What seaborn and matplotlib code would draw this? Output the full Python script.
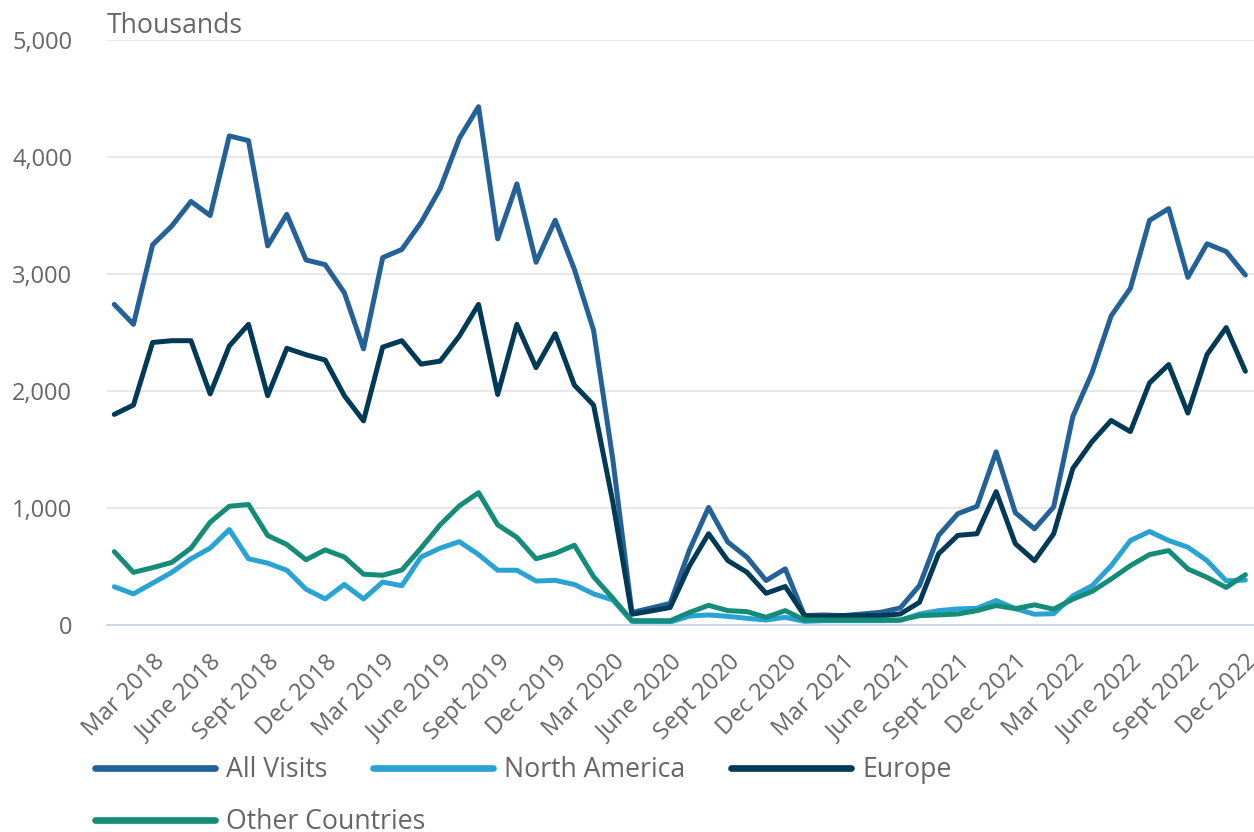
import pandas as pd
import numpy as np
import matplotlib.pyplot as plt
import seaborn as sns
from matplotlib.lines import Line2D
from matplotlib.ticker import FuncFormatter

# --- data (thousands of visits, monthly Jan 2018 - Dec 2022) ---
all_visits = [2740, 2570, 3250, 3410, 3620, 3500, 4180, 4140, 3240, 3510, 3120, 3080,
              2840, 2360, 3140, 3210, 3440, 3730, 4160, 4430, 3300, 3770, 3100, 3460,
              3040, 2520, 1420, 107, 145, 185, 640, 1005, 709, 580, 380, 480,
              80, 86, 80, 94, 109, 146, 337, 766, 951, 1014, 1480, 960,
              822, 1009, 1782, 2155, 2642, 2877, 3458, 3559, 2971, 3258, 3192, 2991]
north_america = [327, 266, 358, 450, 566, 657, 816, 566, 529, 468, 306, 223,
                 346, 223, 367, 336, 581, 657, 712, 602, 468, 468, 376, 382,
                 346, 266, 214, 31, 25, 25, 76, 86, 74, 57, 43, 66,
                 31, 37, 37, 37, 37, 40, 94, 123, 137, 143, 209, 140,
                 92, 97, 249, 335, 507, 722, 799, 722, 665, 550, 378, 384]
europe = [1800, 1880, 2415, 2430, 2430, 1975, 2385, 2570, 1960, 2365, 2310, 2265,
          1960, 1745, 2375, 2430, 2230, 2255, 2470, 2740, 1970, 2570, 2200, 2490,
          2050, 1880, 1055, 92, 120, 150, 505, 780, 551, 451, 271, 329,
          80, 74, 80, 80, 80, 94, 194, 609, 766, 780, 1140, 695,
          550, 779, 1338, 1567, 1748, 1653, 2069, 2226, 1811, 2312, 2542, 2169]
other_countries = [627, 450, 490, 535, 657, 878, 1015, 1030, 765, 688, 557, 642,
                   581, 434, 425, 470, 657, 856, 1018, 1131, 856, 749, 566, 612,
                   682, 413, 229, 37, 37, 37, 107, 168, 123, 114, 66, 123,
                   43, 43, 43, 43, 43, 43, 80, 86, 94, 123, 166, 140,
                   172, 135, 221, 287, 393, 507, 602, 636, 479, 407, 321, 430]

series_names = ['All Visits', 'North America', 'Europe', 'Other Countries']
colors = ['#236196', '#29a3d3', '#003a56', '#158c78']
tick_months = ['Mar', 'June', 'Sept', 'Dec']
years = [2018, 2019, 2020, 2021, 2022]
tick_labels = [f'{m} {y}' for y in years for m in tick_months]

# --- build long dataframe ---
df = pd.DataFrame({'month': np.arange(len(all_visits)),
                   'All Visits': all_visits,
                   'North America': north_america,
                   'Europe': europe,
                   'Other Countries': other_countries})
df_long = df.melt(id_vars='month', var_name='series', value_name='visits')

# --- plot ---
sns.set_theme(style='white')
plt.rcParams['font.family'] = ['Open Sans', 'DejaVu Sans']
text_color = '#666666'
axis_color = '#ccd6eb'

fig = plt.figure(figsize=(12.54, 8.32), dpi=100)
ax = fig.add_axes([107 / 1254, 1 - 625 / 832, 1147 / 1254, 585 / 832])

sns.lineplot(data=df_long, x='month', y='visits', hue='series',
             hue_order=series_names, palette=colors, linewidth=3.6,
             legend=False, ax=ax)
for line in ax.lines:
    line.set_solid_joinstyle('round')
    line.set_solid_capstyle('round')

ax.set_xlim(-0.38, 59.45)
ax.set_ylim(0, 5000)
ax.set_yticks(range(0, 5001, 1000))
ax.yaxis.set_major_formatter(FuncFormatter(lambda v, p: f'{v:,.0f}'))
ax.grid(axis='y', color='#e6e6e6', linewidth=1.3)
ax.set_axisbelow(True)
for sp in ['left', 'top', 'right']:
    ax.spines[sp].set_visible(False)
ax.spines['bottom'].set_color(axis_color)
ax.spines['bottom'].set_linewidth(1.3)
ax.set_xlabel('')
ax.set_ylabel('')

tick_pos = list(range(2, 60, 3))
ax.set_xticks(tick_pos)
ax.set_xticklabels(tick_labels, rotation=45, ha='right', rotation_mode='anchor')
ax.tick_params(axis='x', length=15, width=1.3, color=axis_color, labelsize=17.2,
               labelcolor=text_color, pad=3)
ax.tick_params(axis='y', length=0, labelsize=17, labelcolor=text_color, pad=25)

fig.text(107 / 1254, 1 - 33 / 832, 'Thousands', fontsize=19.2, color=text_color,
         va='baseline', ha='left')

# --- legend ---
handles = [Line2D([], [], color=c, linewidth=4.8) for c in colors]
fig.legend(handles[:3], series_names[:3], ncol=3, loc='upper left',
           bbox_to_anchor=(95 / 1254, 1 - 756 / 832), frameon=False,
           borderpad=0, borderaxespad=0, handlelength=4.5,
           handletextpad=0.41, columnspacing=1.72, fontsize=19.2,
           labelcolor=text_color)
fig.legend(handles[3:], series_names[3:], loc='upper left',
           bbox_to_anchor=(95 / 1254, 1 - 808 / 832), frameon=False,
           borderpad=0, borderaxespad=0, handlelength=4.5,
           handletextpad=0.41, fontsize=19.2, labelcolor=text_color)

fig.savefig('out.png', dpi=100)
